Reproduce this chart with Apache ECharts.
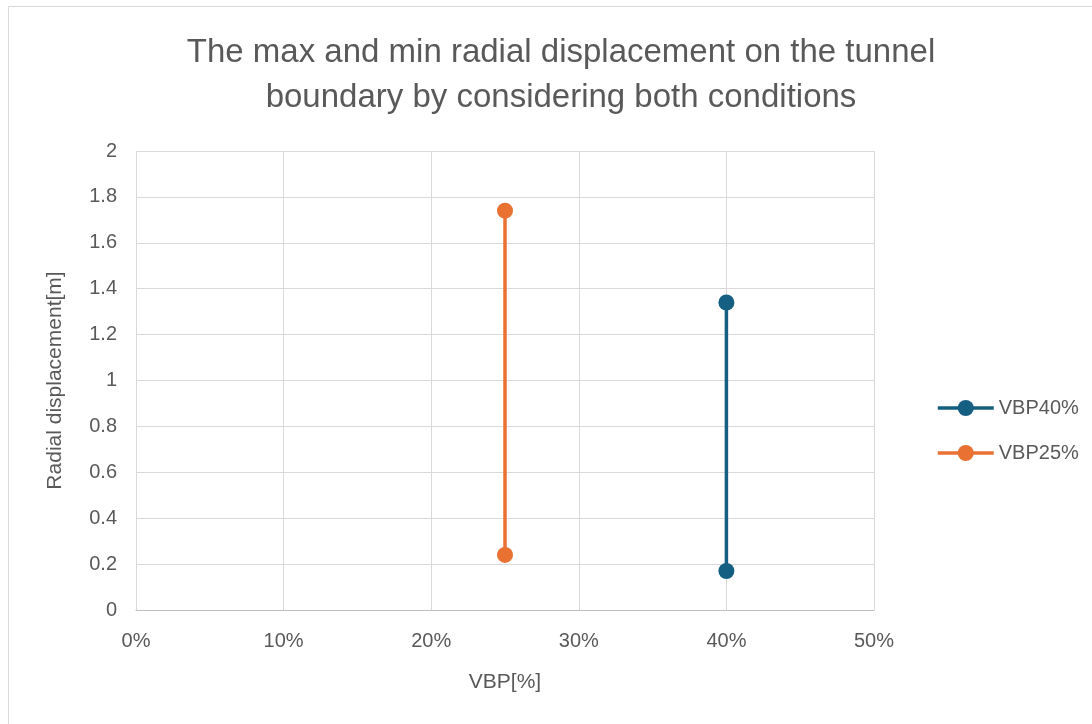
<!DOCTYPE html>
<html><head><meta charset="utf-8">
<script src="https://cdn.jsdelivr.net/npm/echarts@6/dist/echarts.min.js"></script>
<style>html,body{margin:0;padding:0;background:#fff}#c{width:1092px;height:724px}</style>
</head><body><div id="c"></div>
<script>
const titleText = "The max and min radial displacement on the tunnel\nboundary by considering both conditions";
const xAxisName = "VBP[%]";
const yAxisName = "Radial displacement[m]";
const seriesNames = ["VBP40%", "VBP25%"];
const vbp40 = [[0.40, 1.34], [0.40, 0.17]];
const vbp25 = [[0.25, 1.74], [0.25, 0.24]];
const colors = ["#156082", "#E97132"];

const chart = echarts.init(document.getElementById('c'));
const font = "'Liberation Sans', Arial, sans-serif";
chart.setOption({
  backgroundColor: '#fff',
  color: colors,
  animation: false,
  graphic: [{type:'rect', shape:{x:8.5,y:6.5,width:1200,height:800}, style:{fill:'none', stroke:'#d9d9d9', lineWidth:1}, silent:true}],
  title: {text: titleText, left: 556, top: 25, textAlign:'center',
    textStyle:{fontFamily:font, fontSize:33, fontWeight:'normal', color:'#595959', lineHeight:45}},
  grid: {left:136, right:218, top:151, bottom:114},
  legend: {orient:'vertical', left:931, top:393, itemWidth:56, itemHeight:20, itemGap:25,
    lineStyle:{width:3.5},
    textStyle:{fontFamily:font, fontSize:20, color:'#595959'},
    data: seriesNames},
  xAxis: {type:'value', min:0, max:0.5, interval:0.1, name:xAxisName, nameLocation:'middle', nameGap:62,
    nameTextStyle:{fontFamily:font, fontSize:21, color:'#595959'},
    axisLine:{show:true, lineStyle:{color:'#bfbfbf', width:1}}, axisTick:{show:false},
    axisLabel:{fontFamily:font, fontSize:20, color:'#595959', margin:21, formatter:v=>Math.round(v*100)+'%'},
    splitLine:{show:true, lineStyle:{color:'#d9d9d9', width:1}}},
  yAxis: {type:'value', min:0, max:2, interval:0.2, name:yAxisName, nameLocation:'middle', nameGap:70, nameRotate:90,
    nameTextStyle:{fontFamily:font, fontSize:21, color:'#595959'},
    axisLine:{show:false}, axisTick:{show:false},
    axisLabel:{fontFamily:font, fontSize:20, color:'#595959', margin:19, formatter:v=>String(+v.toFixed(1))},
    splitLine:{show:true, lineStyle:{color:'#d9d9d9', width:1}}},
  series: [
    {name:seriesNames[0], type:'line', data:vbp40, symbol:'circle', symbolSize:16, lineStyle:{width:3.5, color:colors[0]}, itemStyle:{color:colors[0]}},
    {name:seriesNames[1], type:'line', data:vbp25, symbol:'circle', symbolSize:16, lineStyle:{width:3.5, color:colors[1]}, itemStyle:{color:colors[1]}}
  ]
});
</script></body></html>
